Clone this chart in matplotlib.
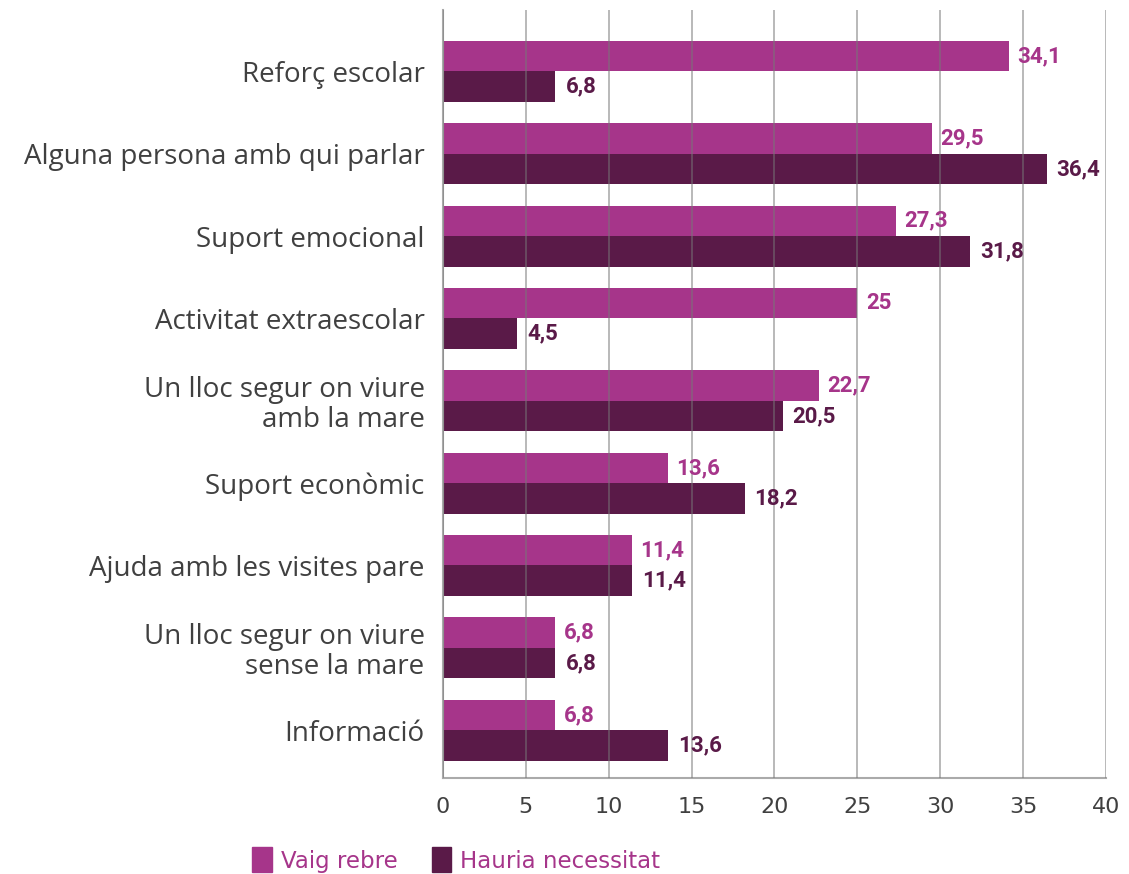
import numpy as np
import matplotlib.pyplot as plt
from matplotlib.patches import Patch

# Data
categories = ['Reforç escolar', 'Alguna persona amb qui parlar', 'Suport emocional',
              'Activitat extraescolar', 'Un lloc segur on viure\namb la mare',
              'Suport econòmic', 'Ajuda amb les visites pare',
              'Un lloc segur on viure\nsense la mare', 'Informació']
rebre = [34.1, 29.5, 27.3, 25, 22.7, 13.6, 11.4, 6.8, 6.8]
necessitat = [6.8, 36.4, 31.8, 4.5, 20.5, 18.2, 11.4, 6.8, 13.6]
series_names = ['Vaig rebre', 'Hauria necessitat']

pink = '#A6358A'
dark = '#5A1A48'
grey_txt = '#404040'

def fmt(v):
    return ('%g' % v).replace('.', ',')

fig = plt.figure(figsize=(11.29, 8.74), dpi=100)
ax = fig.add_axes([0.392, 0.110, 0.588, 0.879])

y = np.arange(len(categories))
h = 0.37
ax.barh(y - h/2, rebre, height=h, color=pink, zorder=1)
ax.barh(y + h/2, necessitat, height=h, color=dark, zorder=1)

for yi, a, b in zip(y, rebre, necessitat):
    ax.text(a + 0.5, yi - h/2, fmt(a), color=pink, fontsize=16, fontweight='bold',
            family='Roboto', va='center', ha='left')
    ax.text(b + 0.6, yi + h/2, fmt(b), color=dark, fontsize=16, fontweight='bold',
            family='Roboto', va='center', ha='left')

ax.set_xlim(0, 40)
ax.set_ylim(8.58, -0.75)
ax.set_xticks(range(0, 41, 5))
ax.set_yticks(y)
ax.set_yticklabels(categories, fontsize=20, color=grey_txt, family='Open Sans',
                   linespacing=1.1)
ax.tick_params(axis='x', length=0, pad=14, labelsize=16, labelcolor=grey_txt)
ax.tick_params(axis='y', length=0, pad=13)
ax.xaxis.grid(True, color='#777777', alpha=0.6, linewidth=1.2, zorder=2)
ax.set_axisbelow(False)
for s in ['top', 'right']:
    ax.spines[s].set_visible(False)
ax.spines['left'].set_color('#aaaaaa')
ax.spines['bottom'].set_color('#aaaaaa')
ax.spines['left'].set_linewidth(1.5)
ax.spines['bottom'].set_linewidth(1.5)

handles = [Patch(color=pink), Patch(color=dark)]
leg = fig.legend(handles, series_names, loc='lower left', bbox_to_anchor=(0.205, -0.022),
                 ncol=2, frameon=False, fontsize=16.5, handlelength=0.85, handleheight=1.3,
                 handletextpad=0.4, columnspacing=1.5)
for t in leg.get_texts():
    t.set_color(pink)

plt.savefig('out.png', dpi=100)
